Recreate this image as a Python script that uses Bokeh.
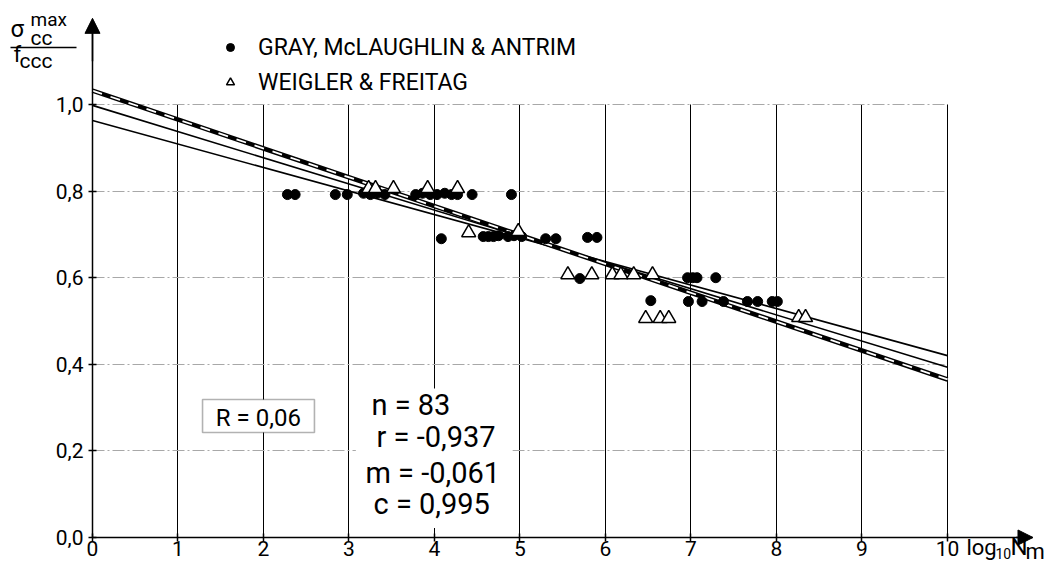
from bokeh.plotting import figure
from bokeh.models import (Range1d, FixedTicker, CustomJSTickFormatter, Label, BoxAnnotation,
                          Arrow, NormalHead, Legend, LegendItem, ColumnDataSource)
from bokeh.embed import file_html
from bokeh.resources import INLINE

# ---------------- data ----------------
x_ticks = [0, 1, 2, 3, 4, 5, 6, 7, 8, 9, 10]
y_ticks = [0.0, 0.2, 0.4, 0.6, 0.8, 1.0]

gray_x = [2.28, 2.37, 2.84, 2.98, 3.17, 3.25, 3.33, 3.42, 3.78, 3.86, 3.95, 4.03, 4.12, 4.20, 4.27,
          4.44, 4.90,
          4.08, 4.57, 4.63, 4.69, 4.75, 4.86, 4.93, 5.02, 5.30, 5.42, 5.79, 5.90,
          5.70, 6.96, 7.02, 7.07, 7.29,
          6.53, 6.97, 7.13, 7.38, 7.66, 7.78, 7.95, 8.01]
gray_y = [0.792, 0.792, 0.792, 0.792, 0.795, 0.792, 0.795, 0.792, 0.792, 0.795, 0.792, 0.792, 0.795, 0.792, 0.792,
          0.792, 0.792,
          0.690, 0.695, 0.695, 0.695, 0.697, 0.695, 0.697, 0.695, 0.690, 0.690, 0.693, 0.693,
          0.598, 0.600, 0.600, 0.600, 0.600,
          0.547, 0.545, 0.545, 0.545, 0.545, 0.545, 0.545, 0.545]

weigler_x = [3.23, 3.31, 3.52, 3.92, 4.27, 4.40, 4.98, 5.56, 5.84, 6.08, 6.18, 6.33, 6.55,
             6.47, 6.64, 6.74, 8.26, 8.34]
weigler_y = [0.806, 0.806, 0.806, 0.806, 0.806, 0.704, 0.707, 0.607, 0.607, 0.607, 0.607, 0.607, 0.607,
             0.506, 0.506, 0.506, 0.508, 0.508]

line_x = [0, 10]
fit_y = [1.032, 0.365]      # thick dashed line
line_b_y = [0.998, 0.393]
line_c_y = [0.963, 0.420]

stats = ["n = 83", "r = -0,937", "m = -0,061", "c = 0,995"]
r_text = "R = 0,06"

FONT = "Roboto"

# ---------------- figure ----------------
p = figure(width=1056, height=566, x_range=Range1d(-1.076, 11.275), y_range=Range1d(-0.0670, 1.2402),
           output_backend="svg", toolbar_location=None, min_border=0,
           outline_line_color=None, background_fill_color="white")
p.title.visible = False

# axes through the origin
p.xaxis.fixed_location = 0
p.yaxis.fixed_location = 0
p.xaxis.bounds = (0, 11.0)
p.yaxis.bounds = (0, 1.19)
p.xaxis.ticker = FixedTicker(ticks=x_ticks)
p.yaxis.ticker = FixedTicker(ticks=y_ticks)
p.yaxis.formatter = CustomJSTickFormatter(code="return tick.toFixed(1).replace('.', ',');")
for ax in (p.xaxis[0], p.yaxis[0]):
    ax.axis_line_color = "black"
    ax.axis_line_width = 1.5
    ax.major_tick_line_color = "black"
    ax.major_tick_line_width = 1.5
    ax.major_tick_in = 4
    ax.major_tick_out = 4
    ax.minor_tick_line_color = None
    ax.major_label_text_font = FONT
    ax.major_label_text_color = "black"
p.xaxis.major_label_text_font_size = "21px"
p.yaxis.major_label_text_font_size = "21px"
p.xaxis.major_label_standoff = 0
p.yaxis.major_label_standoff = 5

# grids
p.xgrid.ticker = FixedTicker(ticks=x_ticks[1:])
p.xgrid.cross_bounds = (0, 1.0)
p.xgrid.grid_line_color = "black"
p.xgrid.grid_line_width = 1
p.ygrid.ticker = FixedTicker(ticks=y_ticks[1:])
p.ygrid.cross_bounds = (0, 10)
p.ygrid.grid_line_color = "#a8a8a8"
p.ygrid.grid_line_width = 1
p.ygrid.grid_line_dash = "12 3 2 3"

# arrows at the axis ends
p.add_layout(Arrow(end=NormalHead(size=15, fill_color="black", line_color="black"),
                   x_start=10.8, y_start=0, x_end=11.0, y_end=0, line_color="black", line_width=1.5))
p.add_layout(Arrow(end=NormalHead(size=15, fill_color="black", line_color="black"),
                   x_start=0, y_start=1.1, x_end=0, y_end=1.199, line_color="black", line_width=1.5))

# regression lines
p.line(line_x, line_b_y, line_color="black", line_width=1.6)
p.line(line_x, line_c_y, line_color="black", line_width=1.6)
p.line(line_x, fit_y, line_color="black", line_width=4.6)
p.line(line_x, fit_y, line_color="white", line_width=1.8, line_dash="10 9")

# data points
src_g = ColumnDataSource(dict(x=gray_x, y=gray_y))
src_w = ColumnDataSource(dict(x=weigler_x, y=weigler_y))
r_g = p.scatter("x", "y", source=src_g, marker="circle", size=10, fill_color="black", line_color="black")
r_w = p.scatter("x", "y", source=src_w, marker="triangle", size=14, fill_color="white",
                line_color="black", line_width=1.5)

legend = Legend(items=[LegendItem(label="GRAY, McLAUGHLIN & ANTRIM", renderers=[r_g]),
                       LegendItem(label="WEIGLER & FREITAG", renderers=[r_w])],
                location=(220, 469), label_text_font=FONT, label_text_font_size="23px",
                label_text_color="black",
                glyph_width=20, glyph_height=30, label_height=30, spacing=5, padding=0, margin=0,
                label_standoff=18, border_line_color=None, background_fill_alpha=0)
p.add_layout(legend)

# R box
p.add_layout(BoxAnnotation(left=1.287, right=2.596, bottom=0.2425, top=0.3187, fill_color="white",
                           fill_alpha=1, line_color="black", line_width=1.6))
p.add_layout(Label(x=1.94, y=0.276, text=r_text, text_align="center", text_baseline="alphabetic",
                   text_font=FONT, text_font_size="24px", text_color="black"))

# statistics block
p.add_layout(BoxAnnotation(left=3.08, right=4.91, bottom=0.022, top=0.344, fill_color="white",
                           fill_alpha=1, line_color=None))
stat_pos = [(3.263, 0.305), (3.322, 0.231), (3.193, 0.148), (3.287, 0.078)]
for (sx, sy), t in zip(stat_pos, stats):
    p.add_layout(Label(x=sx, y=sy, text=t, text_baseline="alphabetic", text_font=FONT,
                       text_font_size="29px", text_color="black"))

# y axis title: sigma_cc^max / f_ccc
def lab(x, y, t, size):
    p.add_layout(Label(x=x, y=y, text=t, text_baseline="alphabetic", text_font=FONT,
                       text_font_size=size, text_color="black"))

lab(-0.959, 1.1754, "σ", "24px")
lab(-0.725, 1.1964, "max", "19px")
lab(-0.725, 1.1546, "cc", "21px")
p.add_layout(Arrow(start=None, end=None, x_start=-0.959, y_start=1.1316, x_end=-0.187, y_end=1.1316,
                   line_color="black", line_width=1.5))
lab(-0.924, 1.1154, "f", "22px")
lab(-0.854, 1.1016, "ccc", "21px")

# x axis title: log10 N_m
lab(10.222, -0.0233, "log", "22px")
lab(10.561, -0.0372, "10", "14px")
lab(10.737, -0.021, "N", "24px")
lab(10.912, -0.0326, "m", "22px")

open("out.html", "w").write(file_html(p, INLINE))
